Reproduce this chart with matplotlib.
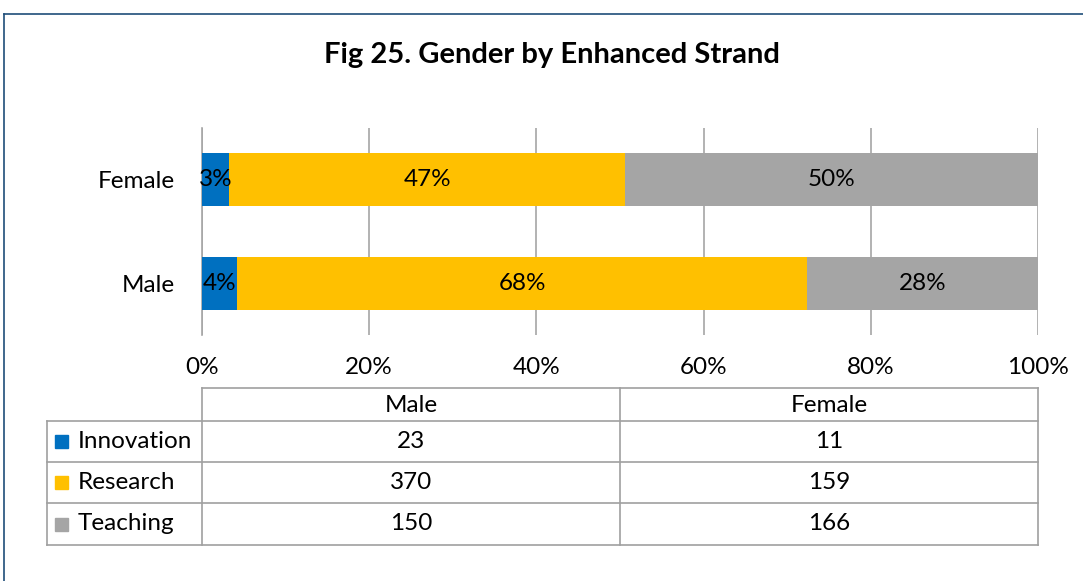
import matplotlib
matplotlib.use("Agg")
import matplotlib.pyplot as plt
from matplotlib.lines import Line2D
from matplotlib.patches import Rectangle

# ---- data ----
genders = ["Male", "Female"]               # bottom to top in the bar chart
strands = ["Innovation", "Research", "Teaching"]
innovation = [23, 11]
research = [370, 159]
teaching = [150, 166]
seg_labels = {
    "Male": ["4%", "68%", "28%"],
    "Female": ["3%", "47%", "50%"],
}
xticks = [0, 0.2, 0.4, 0.6, 0.8, 1.0]
xtick_labels = ["0%", "20%", "40%", "60%", "80%", "100%"]
title = "Fig 25. Gender by Enhanced Strand"

colors = ["#0070C0", "#FFC000", "#A5A5A5"]
grid_col = "#A6A6A6"
FONT = "Lato"
FS = 17.5

W, H = 1083, 581
fig = plt.figure(figsize=(W / 100, H / 100), dpi=100)
fig.patch.set_facecolor("white")

def fx(px):
    return px / W

def fy(py):
    return 1 - py / H

# border of chart area
fig.add_artist(Line2D([fx(4), fx(4)], [fy(14), fy(581)], color="#1F4E79", lw=1.2))
fig.add_artist(Line2D([fx(4), fx(1083)], [fy(14), fy(14)], color="#1F4E79", lw=1.2))

fig.text(fx(552), fy(55), title, ha="center", va="center", fontsize=21,
         fontweight="bold", family=FONT, color="black")

# ---- bar chart ----
ax_l, ax_r, ax_t, ax_b = 202, 1038, 128, 335
ax = fig.add_axes([fx(ax_l), fy(ax_b), fx(ax_r - ax_l), (ax_b - ax_t) / H])
series = [innovation, research, teaching]
totals = [sum(s[i] for s in series) for i in range(len(genders))]
lefts = [0.0] * len(genders)
for si, s in enumerate(series):
    fr = [s[i] / totals[i] for i in range(len(genders))]
    ax.barh(range(len(genders)), fr, left=lefts, height=0.51, color=colors[si],
            edgecolor="none", zorder=3)
    for i, g in enumerate(genders):
        ax.text(lefts[i] + fr[i] / 2, i, seg_labels[g][si], ha="center", va="center",
                fontsize=FS, family=FONT, color="black", zorder=4)
    lefts = [lefts[i] + fr[i] for i in range(len(genders))]

ax.set_xlim(0, 1)
ax.set_ylim(-0.5, 1.5)
ax.set_xticks(xticks)
ax.set_xticklabels(xtick_labels, family=FONT, fontsize=FS)
ax.set_yticks(range(len(genders)))
ax.set_yticklabels(genders, family=FONT, fontsize=FS)
ax.tick_params(axis="x", length=0, pad=16)
ax.tick_params(axis="y", length=0, pad=19.5)
ax.grid(axis="x", color=grid_col, lw=1.2, zorder=0)
for sp in ["top", "right", "bottom"]:
    ax.spines[sp].set_visible(False)
ax.spines["left"].set_color(grid_col)
ax.spines["left"].set_linewidth(1.2)
ax.set_facecolor("none")

# ---- data table ----
tl, tr, tt, tb = 47, 1038, 388, 545
tax = fig.add_axes([fx(tl), fy(tb), fx(tr - tl), (tb - tt) / H])
tax.set_xlim(tl, tr)
tax.set_ylim(tb, tt)
tax.axis("off")
col_x = [47, 202, 620, 1038]
row_y = [388, 421, 462, 503, 545]
lc = "#A0A0A0"
lw = 1.2
tax.plot([col_x[1], col_x[3]], [row_y[0], row_y[0]], color=lc, lw=lw, clip_on=False)
for y in row_y[1:]:
    tax.plot([col_x[0], col_x[3]], [y, y], color=lc, lw=lw, clip_on=False)
tax.plot([col_x[0], col_x[0]], [row_y[1], row_y[4]], color=lc, lw=lw, clip_on=False)
for x in col_x[1:]:
    tax.plot([x, x], [row_y[0], row_y[4]], color=lc, lw=lw, clip_on=False)

table_cols = ["Male", "Female"]
for j, g in enumerate(table_cols):
    cx = (col_x[j + 1] + col_x[j + 2]) / 2
    tax.text(cx, (row_y[0] + row_y[1]) / 2 + 1, g, ha="center", va="center",
             fontsize=FS, family=FONT)
for r, (name, s) in enumerate(zip(strands, series)):
    cy = (row_y[r + 1] + row_y[r + 2]) / 2
    tax.add_patch(Rectangle((55, cy - 6.5), 13, 13, color=colors[r], clip_on=False))
    tax.text(78, cy, name, ha="left", va="center", fontsize=FS, family=FONT)
    for j, g in enumerate(table_cols):
        gi = genders.index(g)
        cx = (col_x[j + 1] + col_x[j + 2]) / 2
        tax.text(cx, cy, str(s[gi]), ha="center", va="center", fontsize=FS, family=FONT)

fig.savefig("out.png", dpi=100, facecolor="white")
